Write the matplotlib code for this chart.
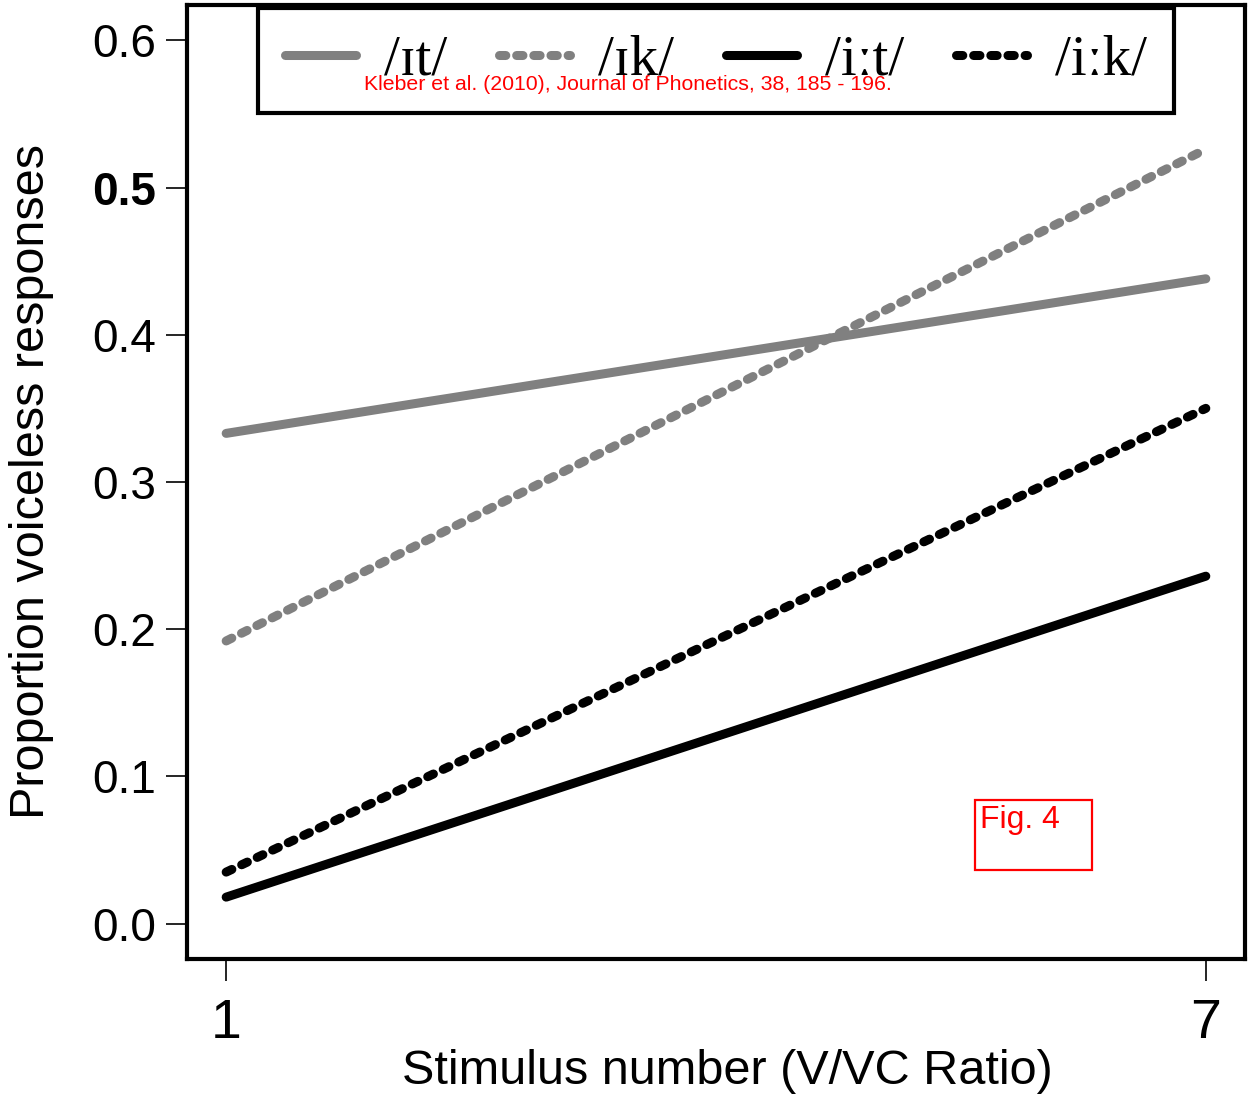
import matplotlib
matplotlib.use("Agg")
import matplotlib.pyplot as plt
from matplotlib.patches import Rectangle

# ---- data ----
stimulus = [1, 7]
labels = ["/ɪt/", "/ɪk/", "/iːt/", "/iːk/"]
series = {
    "/ɪt/": [0.333, 0.438],
    "/ɪk/": [0.192, 0.526],
    "/iːt/": [0.018, 0.236],
    "/iːk/": [0.035, 0.350],
}
colors = ["#808080", "#808080", "#000000", "#000000"]
dotted = [False, True, False, True]
yticks = [0.0, 0.1, 0.2, 0.3, 0.4, 0.5, 0.6]
ytick_labels = ["0.0", "0.1", "0.2", "0.3", "0.4", "0.5", "0.6"]
xticks = [1, 7]
xtick_labels = ["1", "7"]

sans = ["Liberation Sans", "DejaVu Sans"]
narrow = ["Liberation Sans Narrow", "Liberation Sans", "DejaVu Sans"]
serif = ["Liberation Serif", "DejaVu Serif"]

fig = plt.figure(figsize=(12.49, 11.01), dpi=100)
ax = fig.add_axes([0.1497, 0.1290, 0.8471, 0.8665])

lw = 6.5
for lab, col, dot in zip(labels, colors, dotted):
    kw = dict(color=col, lw=lw, solid_capstyle="round", dash_capstyle="round", label=lab)
    if dot:
        kw["linestyle"] = (0, (0.7, 1.2))
    ax.plot(stimulus, series[lab], **kw)

ax.set_xlim(0.76, 7.24)
ax.set_ylim(-0.024, 0.624)

for s in ax.spines.values():
    s.set_linewidth(3)
    s.set_color("black")

ax.set_yticks(yticks)
ax.set_yticklabels(ytick_labels, family=sans, fontsize=33)
for t in ax.get_yticklabels():
    if t.get_text() == "0.5":
        t.set_fontweight("bold")
ax.set_xticks(xticks)
ax.set_xticklabels(xtick_labels, family=narrow, fontsize=40)
ax.tick_params(axis="y", length=15, width=1.2, pad=7, direction="out")
ax.tick_params(axis="x", length=16, width=1.2, pad=12, direction="out")

ax.set_ylabel("Proportion voiceless responses", family=narrow, fontsize=35, va="center")
ax.yaxis.set_label_coords(-0.1474, 0.5)
ax.set_xlabel("Stimulus number (V/VC Ratio)", family=narrow, fontsize=35, va="center")
ax.xaxis.set_label_coords(0.5104, -0.1184)

leg = ax.legend(loc="upper center", bbox_to_anchor=(0.5, 0.997), borderaxespad=0,
                ncol=4, fancybox=False, framealpha=1, edgecolor="black",
                prop={"family": serif, "size": 41},
                handlelength=1.25, handletextpad=0.5, columnspacing=0.9,
                borderpad=0.47)
leg.get_frame().set_linewidth(3)

fig.text(0.503, 1 - 84 / 1101, "Kleber et al. (2010), Journal of Phonetics, 38, 185 - 196.",
         color="red", family=sans, fontsize=15.3, ha="center", va="center", zorder=10)

fig.patches.append(Rectangle((975 / 1249, 1 - 870 / 1101), 117 / 1249, 70 / 1101,
                             transform=fig.transFigure, fill=False, edgecolor="red", lw=1.6))
fig.text(980 / 1249, 1 - 820 / 1101, "Fig. 4", color="red", family=sans, fontsize=23,
         ha="left", va="center")

fig.savefig("out.png", dpi=100)
